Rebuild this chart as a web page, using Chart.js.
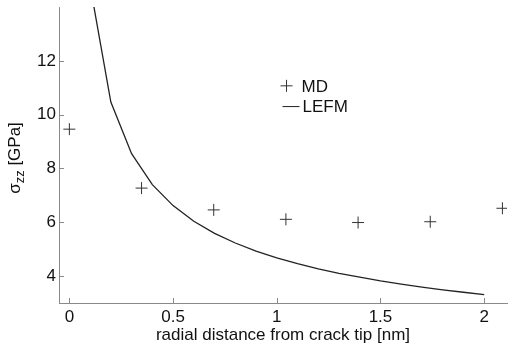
<!DOCTYPE html>
<html>
<head>
<meta charset="utf-8">
<script src="https://cdn.jsdelivr.net/npm/chart.js@4/dist/chart.umd.min.js"></script>
<style>
  html, body { margin: 0; padding: 0; background: #fff; }
  #wrap { width: 514px; height: 346px; }
</style>
</head>
<body>
<div id="wrap"><canvas id="c" width="514" height="346"></canvas></div>
<script>
// ---- data ----
const mdX = [0, 0.348, 0.696, 1.044, 1.392, 1.74, 2.088];
const mdY = [9.46, 7.27, 6.46, 6.11, 5.99, 6.02, 6.52];
const lefmX = [0.1, 0.2, 0.3, 0.4, 0.5, 0.6, 0.7, 0.8, 0.9, 1.0,
               1.1, 1.2, 1.3, 1.4, 1.5, 1.6, 1.7, 1.8, 1.9, 2.0];
const lefmY = [14.8, 10.47, 8.55, 7.4, 6.62, 6.04, 5.59, 5.23, 4.93, 4.68,
               4.46, 4.27, 4.10, 3.96, 3.82, 3.70, 3.59, 3.49, 3.40, 3.31];
const xTicks = [0, 0.5, 1, 1.5, 2];
const yTicks = [4, 6, 8, 10, 12];
const seriesLabels = ['MD', 'LEFM'];
const xTitle = 'radial distance from crack tip [nm]';
const yTitleMain = 'σ';
const yTitleSub = 'zz';
const yTitleUnit = ' [GPa]';

const FONT = '"Liberation Sans", Arial, Helvetica, sans-serif';
const AXIS_COLOR = '#8a8a8a';

const innerTicks = {
  id: 'innerTicks',
  afterDraw(chart) {
    const ctx = chart.ctx;
    const a = chart.chartArea;
    const xs = chart.scales.x, ys = chart.scales.y;
    ctx.save();
    ctx.strokeStyle = AXIS_COLOR;
    ctx.lineWidth = 1;
    ctx.beginPath();
    xs.ticks.forEach(t => {
      const px = Math.round(xs.getPixelForValue(t.value)) + 0.5;
      ctx.moveTo(px, a.bottom);
      ctx.lineTo(px, a.bottom - 5);
    });
    ys.ticks.forEach(t => {
      const py = Math.round(ys.getPixelForValue(t.value)) + 0.5;
      ctx.moveTo(a.left, py);
      ctx.lineTo(a.left + 5, py);
    });
    ctx.stroke();

    // y-axis title with subscript
    ctx.fillStyle = '#111';
    ctx.translate(20, (a.top + a.bottom) / 2 + 3);
    ctx.rotate(-Math.PI / 2);
    ctx.textBaseline = 'alphabetic';
    const f1 = '17px ' + FONT, f2 = '13px ' + FONT;
    ctx.font = f1; const w1 = ctx.measureText(yTitleMain).width;
    ctx.font = f2; const w2 = ctx.measureText(yTitleSub).width;
    ctx.font = f1; const w3 = ctx.measureText(yTitleUnit).width;
    let x0 = -(w1 + w2 + w3) / 2;
    ctx.font = f1; ctx.fillText(yTitleMain, x0, 0);
    ctx.font = f2; ctx.fillText(yTitleSub, x0 + w1, 4);
    ctx.font = f1; ctx.fillText(yTitleUnit, x0 + w1 + w2, 0);
    ctx.restore();

    // legend inside plot
    const ds = chart.data.datasets;
    ctx.save();
    ctx.font = '17px ' + FONT;
    ctx.fillStyle = '#111';
    ctx.textBaseline = 'middle';
    const lx = xs.getPixelForValue(1.047), ly1 = ys.getPixelForValue(11.07), ly2 = ys.getPixelForValue(10.3);
    ctx.strokeStyle = ds[0].borderColor; ctx.lineWidth = 1;
    ctx.beginPath();
    ctx.moveTo(lx - 6, ly1); ctx.lineTo(lx + 6, ly1);
    ctx.moveTo(lx, ly1 - 6); ctx.lineTo(lx, ly1 + 6);
    ctx.stroke();
    ctx.strokeStyle = ds[1].borderColor;
    ctx.beginPath();
    ctx.moveTo(lx - 4, ly2); ctx.lineTo(lx + 13, ly2);
    ctx.stroke();
    ctx.fillText(ds[0].label, lx + 15, ly1 + 1);
    ctx.fillText(ds[1].label, lx + 16, ly2 + 1);
    ctx.restore();
  }
};

new Chart(document.getElementById('c'), {
  type: 'scatter',
  data: {
    datasets: [
      {
        label: seriesLabels[0],
        data: mdX.map((x, i) => ({ x, y: mdY[i] })),
        pointStyle: 'cross',
        pointRadius: 6,
        pointBorderWidth: 1,
        borderColor: '#333',
        backgroundColor: '#333',
        showLine: false
      },
      {
        label: seriesLabels[1],
        data: lefmX.map((x, i) => ({ x, y: lefmY[i] })),
        showLine: true,
        pointRadius: 0,
        borderColor: '#222',
        borderWidth: 1.3,
        tension: 0
      }
    ]
  },
  options: {
    responsive: false,
    animation: false,
    devicePixelRatio: 1,
    layout: { padding: { top: 7, right: 0, left: 0, bottom: 0 } },
    plugins: { legend: { display: false }, tooltip: { enabled: false } },
    scales: {
      x: {
        type: 'linear',
        min: -0.05, max: 2.11,
        afterBuildTicks: s => { s.ticks = xTicks.map(v => ({ value: v })); },
        afterFit: s => { s.height = 43; s.paddingLeft = 0; s.paddingRight = 0; },
        grid: { display: false, drawTicks: false },
        border: { display: true, color: AXIS_COLOR, width: 1 },
        ticks: { font: { family: FONT, size: 17 }, color: '#111', padding: 4, maxRotation: 0,
                 callback: v => String(v) },
        title: { display: true, text: xTitle, font: { family: FONT, size: 17 }, color: '#111', padding: { top: 0, bottom: 0 } }
      },
      y: {
        type: 'linear',
        min: 3, max: 14,
        afterBuildTicks: s => { s.ticks = yTicks.map(v => ({ value: v })); },
        afterFit: s => { s.width = 59; s.paddingTop = 0; s.paddingBottom = 0; },
        grid: { display: false, drawTicks: false },
        border: { display: true, color: AXIS_COLOR, width: 1 },
        ticks: { font: { family: FONT, size: 17 }, color: '#111', padding: 3,
                 callback: v => String(v) }
      }
    }
  },
  plugins: [innerTicks]
});
</script>
</body>
</html>
